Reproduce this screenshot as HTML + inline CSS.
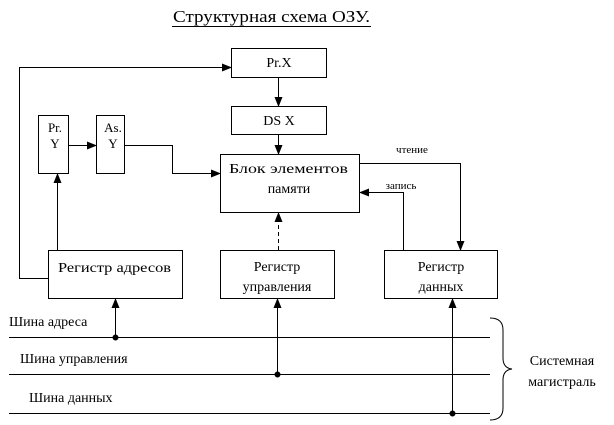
<!DOCTYPE html>
<html><head><meta charset="utf-8"><style>
html,body{margin:0;padding:0;background:#fff;width:614px;height:425px;overflow:hidden}
svg{display:block}
text{font-family:"Liberation Serif","DejaVu Serif",serif;fill:#000}
</style></head><body>
<svg width="614" height="425" viewBox="0 0 614 425" xmlns="http://www.w3.org/2000/svg">
<defs>
<marker id="a" markerWidth="10" markerHeight="10" refX="9" refY="4" orient="auto" markerUnits="userSpaceOnUse"><path d="M0,0 L10,4 L0,8 z" fill="#000"/></marker>
</defs>
<g stroke="#000" stroke-width="1" fill="none">
<line x1="172" y1="26.5" x2="371" y2="26.5"/>
<rect x="231.5" y="48.5" width="95" height="29"/>
<rect x="231.5" y="106.5" width="95" height="28"/>
<rect x="38.5" y="115.5" width="30" height="58"/>
<rect x="96.5" y="115.5" width="28" height="58"/>
<rect x="220.5" y="154.5" width="139" height="58"/>
<rect x="48.5" y="250.5" width="134" height="48"/>
<rect x="220.5" y="250.5" width="114" height="48"/>
<rect x="384.5" y="250.5" width="113" height="48"/>
<polyline points="48.5,278.5 19.5,278.5 19.5,67.5 231,67.5" marker-end="url(#a)"/>
<line x1="278.5" y1="77" x2="278.5" y2="106" marker-end="url(#a)"/>
<line x1="278.5" y1="134" x2="278.5" y2="154" marker-end="url(#a)"/>
<line x1="68" y1="145.5" x2="96" y2="145.5" marker-end="url(#a)"/>
<polyline points="124,145.5 172.5,145.5 172.5,173.5 220,173.5" marker-end="url(#a)"/>
<line x1="57.5" y1="250" x2="57.5" y2="174" marker-end="url(#a)"/>
<line x1="278.5" y1="250" x2="278.5" y2="213" stroke-dasharray="4,3" marker-end="url(#a)"/>
<polyline points="360,163.5 460.5,163.5 460.5,250" marker-end="url(#a)"/>
<polyline points="403.5,250 403.5,192.5 360,192.5" marker-end="url(#a)"/>
<line x1="9" y1="337.5" x2="490" y2="337.5"/>
<line x1="9" y1="374.5" x2="490" y2="374.5"/>
<line x1="9" y1="413.5" x2="490" y2="413.5"/>
<line x1="115.5" y1="337.5" x2="115.5" y2="299" marker-end="url(#a)"/>
<line x1="277.5" y1="374.5" x2="277.5" y2="299" marker-end="url(#a)"/>
<line x1="452.5" y1="413.5" x2="452.5" y2="299" marker-end="url(#a)"/>
<circle cx="115.5" cy="337.5" r="2.5" fill="#000"/>
<circle cx="277.5" cy="374.5" r="2.5" fill="#000"/>
<circle cx="452.5" cy="413.5" r="2.5" fill="#000"/>
<path d="M490,318 Q503,318 503,330 L503,358 Q503,368 512,369 Q503,370 503,380 L503,408 Q503,420 490,420"/>
</g>
<text x="173" y="22" font-size="17" textLength="197" lengthAdjust="spacingAndGlyphs">Структурная схема ОЗУ.</text>
<g font-size="14">
<text x="279" y="67" text-anchor="middle">Pr.X</text>
<text x="279" y="125" text-anchor="middle">DS X</text>
<text x="55" y="132" text-anchor="middle" font-size="13">Pr.</text>
<text x="55" y="148" text-anchor="middle" font-size="13">Y</text>
<text x="113" y="132" text-anchor="middle" font-size="13">As.</text>
<text x="113" y="148" text-anchor="middle" font-size="13">Y</text>
<text x="229" y="173" textLength="119" lengthAdjust="spacingAndGlyphs">Блок элементов</text>
<text x="289" y="193" text-anchor="middle">памяти</text>
<text x="58" y="272" textLength="113" lengthAdjust="spacingAndGlyphs">Регистр адресов</text>
<text x="277" y="271" text-anchor="middle">Регистр</text>
<text x="277" y="291" text-anchor="middle">управления</text>
<text x="441" y="271" text-anchor="middle">Регистр</text>
<text x="441" y="291" text-anchor="middle">данных</text>
<text x="9" y="326">Шина адреса</text>
<text x="20" y="363">Шина управления</text>
<text x="29" y="402">Шина данных</text>
<text x="562" y="365" text-anchor="middle">Системная</text>
<text x="562" y="386" text-anchor="middle">магистраль</text>
<text x="412" y="153" text-anchor="middle" font-size="11">чтение</text>
<text x="401" y="189" text-anchor="middle" font-size="11">запись</text>
</g>
</svg>
</body></html>
